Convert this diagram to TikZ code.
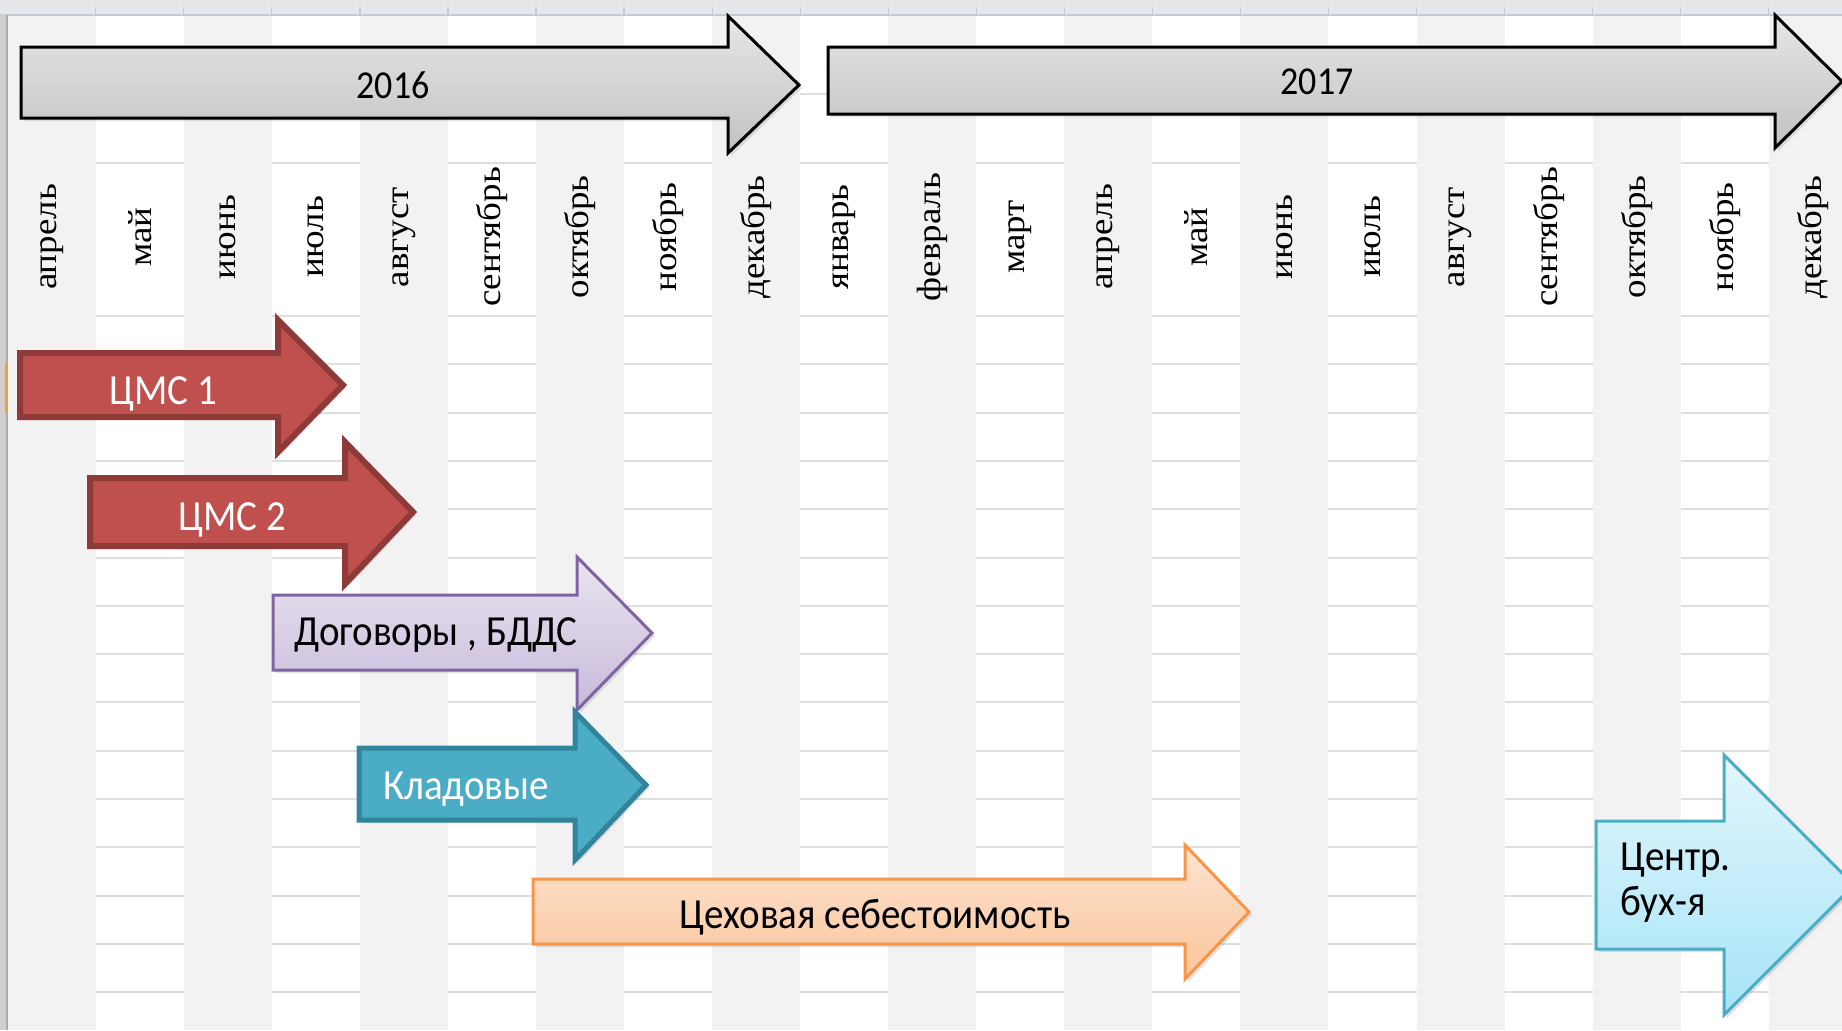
\documentclass[tikz,border=0pt]{standalone}
\usepackage{fontspec}
\usepackage{graphicx}
\usetikzlibrary{shadows}
\setmainfont{Liberation Serif}
\newfontfamily\labfont{Carlito}
\definecolor{cellgray}{HTML}{F2F2F2}
\definecolor{rowgray}{HTML}{DCDEDF}
\definecolor{hdrfill}{HTML}{E4E8ED}
\definecolor{hdrline}{HTML}{C5CAD1}
\definecolor{framefill}{HTML}{D3CFCF}
\definecolor{frameline}{HTML}{ABABAB}
\definecolor{selmark}{HTML}{E8A33D}
\definecolor{yeartop}{HTML}{E6E6E6}
\definecolor{yearbot}{HTML}{C2C2C2}
\definecolor{redfill}{HTML}{C0504D}
\definecolor{redline}{HTML}{8E3A38}
\definecolor{tealfill}{HTML}{4BACC6}
\definecolor{tealline}{HTML}{31849B}
\definecolor{lilatop}{HTML}{E9E4F0}
\definecolor{lilabot}{HTML}{C8BADA}
\definecolor{lilaline}{HTML}{8064A2}
\definecolor{peachtop}{HTML}{FEE3D0}
\definecolor{peachbot}{HTML}{FAC59C}
\definecolor{peachline}{HTML}{F79646}
\definecolor{skytop}{HTML}{E3F6FC}
\definecolor{skybot}{HTML}{A6E4F7}
\newcommand\vstr[1]{\scalebox{1}[1.1]{#1}}
\newcommand\hstr[1]{\scalebox{1.1}[1]{#1}}
% style, x0, body top, body bottom, head x, head top, head bottom, tip x, tip y
\newcommand\shaftarrow[9]{%
  \draw[#1] (#2,#3) -- (#5,#3) -- (#5,#6) -- (#8,#9) -- (#5,#7) -- (#5,#4) -- (#2,#4) -- cycle;}
\tikzset{
  cell/.style={fill=cellgray},
  rowline/.style={draw=rowgray, line width=1pt},
  hdr/.style={draw=hdrline, line width=0.6pt},
  month/.style={rotate=90, inner sep=0pt, font=\fontsize{16.8}{18}\selectfont},
  shade/.style={drop shadow={shadow xshift=1.5pt, shadow yshift=-1.5pt, opacity=0.22}},
  yearbar/.style={shade, draw=black, line width=1.5pt, top color=yeartop, bottom color=yearbot},
  redbar/.style={shade, draw=redline, line width=3pt, fill=redfill},
  tealbar/.style={shade, draw=tealline, line width=2.5pt, fill=tealfill},
  lilabar/.style={shade, draw=lilaline, line width=1.5pt, top color=lilatop, bottom color=lilabot},
  peachbar/.style={shade, draw=peachline, line width=1.5pt, top color=peachtop, bottom color=peachbot},
  skybar/.style={shade, draw=tealfill, line width=1.5pt, top color=skytop, bottom color=skybot},
  lab/.style={inner sep=0pt, font=\labfont\fontsize{19.5}{22.5}\selectfont},
  labw/.style={lab, text=white},
  yearlab/.style={inner sep=0pt, font=\labfont\fontsize{18}{20}\selectfont},
}
\begin{document}
\begin{tikzpicture}[x=0.5pt,y=-0.5pt]
  \def\cw{88.05}
  \def\cx{7.7}
  \path[use as bounding box] (0,0) rectangle (1842,1030);
  \clip (0,0) rectangle (1842,1030);
  % sheet grid
  \fill[white] (0,0) rectangle (1842,1030);
  \foreach \y in {94,163,316}
    \draw[rowline] (0,\y) -- (1842,\y);
  \foreach \j in {1,...,14}
    \draw[rowline] (0,{316+48.3*\j}) -- (1842,{316+48.3*\j});
  \foreach \k in {0,2,...,20}
    \fill[cell] ({\cx+\cw*\k},15) rectangle ({\cx+\cw*(\k+1)},1030);
  \fill[cellgray!90!gray] (0,0) rectangle (1842,7);
  \fill[hdrfill] (0,7) rectangle (1842,15);
  \draw[hdr] (0,15) -- (1842,15);
  \foreach \k in {0,...,20}
    \draw[hdr] ({\cx+\cw*(\k+1)},7) -- ({\cx+\cw*(\k+1)},15);
  \fill[framefill] (0,15) rectangle (7,1030);
  \draw[frameline, line width=0.6pt] (7,15) -- (7,1030);
  \draw[selmark, line width=1pt] (6,363) -- (6,413);
  % months
  \foreach \m [count=\k from 0] in {апрель,май,июнь,июль,август,сентябрь,октябрь,ноябрь,декабрь,январь,февраль,март,апрель,май,июнь,июль,август,сентябрь,октябрь,ноябрь,декабрь}
    \node[month] (m\k) at ({\cx+\cw*(\k+0.5)},237) {\hstr{\m}};
  % years
  \shaftarrow{yearbar}{21}{47}{118}{728}{16}{153}{799}{85}
  \shaftarrow{yearbar}{828}{47}{114}{1775}{15}{148}{1842}{81.5}
  \node[yearlab] (y16) at (393,85) {\vstr{2016}};
  \node[yearlab] (y17) at (1317,82) {\vstr{2017}};
  % tasks
  \shaftarrow{redbar}{20}{353}{417}{278}{320}{452}{343}{385}
  \shaftarrow{redbar}{90}{478}{546}{345}{442}{584}{413}{512}
  \shaftarrow{lilabar}{273}{595}{670}{577}{557}{710}{652}{633}
  \shaftarrow{tealbar}{359}{748}{820}{575}{712}{860}{646}{785}
  \shaftarrow{peachbar}{533}{879}{944}{1185}{845}{979}{1249}{912}
  \shaftarrow{skybar}{1596}{821}{949}{1724}{755}{1015}{1854}{885}
  \node[labw] (cms1) at (163,393.5) {\vstr{ЦМС 1}};
  \node[labw] (cms2) at (232,520) {\vstr{ЦМС 2}};
  \node[lab] (dog) at (436,635.5) {\vstr{Договоры , БДДС}};
  \node[labw] (klad) at (466,789.5) {\vstr{Кладовые}};
  \node[lab] (cex) at (875,917) {\vstr{Цеховая себестоимость}};
  \node[lab, align=left, anchor=west] (centr) at (1620,883) {\vstr{Центр.}\\\vstr{бух-я}};
\end{tikzpicture}
\end{document}
